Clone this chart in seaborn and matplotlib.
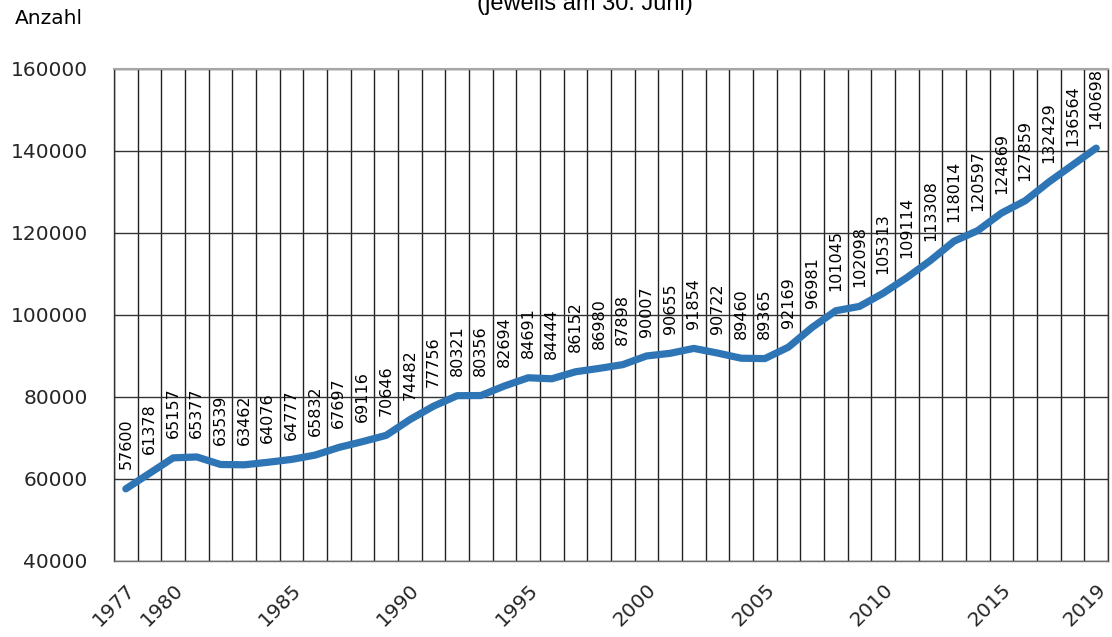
import matplotlib
matplotlib.use("Agg")
import matplotlib.pyplot as plt
import numpy as np
import pandas as pd
import seaborn as sns

# Data (category axis, one year between 1977 and 1980 skipped)
years = [1977, 1979, 1980, 1981, 1982, 1983, 1984, 1985, 1986, 1987, 1988,
         1989, 1990, 1991, 1992, 1993, 1994, 1995, 1996, 1997, 1998, 1999,
         2000, 2001, 2002, 2003, 2004, 2005, 2006, 2007, 2008, 2009, 2010,
         2011, 2012, 2013, 2014, 2015, 2016, 2017, 2018, 2019]
counts = [57600, 61378, 65157, 65377, 63539, 63462, 64076, 64777, 65832,
          67697, 69116, 70646, 74482, 77756, 80321, 80356, 82694, 84691,
          84444, 86152, 86980, 87898, 90007, 90655, 91854, 90722, 89460,
          89365, 92169, 96981, 101045, 102098, 105313, 109114, 113308,
          118014, 120597, 124869, 127859, 132429, 136564, 140698]
label_years = [1977, 1980, 1985, 1990, 1995, 2000, 2005, 2010, 2015, 2019]
y_ticks = [40000, 60000, 80000, 100000, 120000, 140000, 160000]

df = pd.DataFrame({"pos": np.arange(len(years)), "year": years, "count": counts})

sns.set_theme(style="white")
plt.rcParams["font.family"] = ["DejaVu Sans"]

fig = plt.figure(figsize=(11.12, 6.37), dpi=100)
ax = fig.add_axes([114 / 1112, 1 - 561 / 637, 994 / 1112, 492 / 637])

sns.lineplot(data=df, x="pos", y="count", ax=ax, color="#2e75b6",
             linewidth=5.2, solid_capstyle="round", solid_joinstyle="round",
             zorder=3)

for p, v in zip(df["pos"], df["count"]):
    ax.annotate(str(v), (p, v), xytext=(0, 14), textcoords="offset points",
                rotation=90, ha="center", va="bottom", fontsize=11.5,
                color="black", zorder=4)

ax.set_xlim(-0.5, len(years) - 0.5)
ax.set_ylim(40000, 160000)
ax.set_yticks(y_ticks)
ax.set_yticklabels([str(t) for t in y_ticks], fontsize=14.5)

ax.set_xticks([years.index(y) for y in label_years])
ax.set_xticklabels([str(y) for y in label_years], rotation=45, ha="right",
                   rotation_mode="anchor", fontsize=14.5)
ax.set_xticks(np.arange(-0.5, len(years), 1.0), minor=True)

ax.tick_params(axis="both", which="both", length=0)
ax.tick_params(axis="y", pad=19)
ax.tick_params(axis="x", pad=14)
ax.grid(True, axis="y", which="major", color="#333333", linewidth=1.0)
ax.grid(True, axis="x", which="minor", color="#222222", linewidth=1.0)
ax.set_xlabel("")
ax.set_ylabel("")

for side in ["left", "right", "bottom"]:
    ax.spines[side].set_visible(True)
    ax.spines[side].set_color("#303030")
    ax.spines[side].set_linewidth(1.0)
ax.spines["top"].set_color("#a6a6a6")
ax.spines["top"].set_linewidth(1.5)
ax.spines["bottom"].set_color("#707070")

fig.text(15 / 1112, 1 - 19 / 637, "Anzahl", fontsize=14.5, ha="left",
         va="center", color="black")
fig.text(585 / 1112, 1 - 4 / 637, "(jeweils am 30. Juni)", fontsize=17,
         ha="center", va="center", color="black",
         family=["Liberation Sans", "DejaVu Sans"])

fig.savefig("out.png", dpi=100)
